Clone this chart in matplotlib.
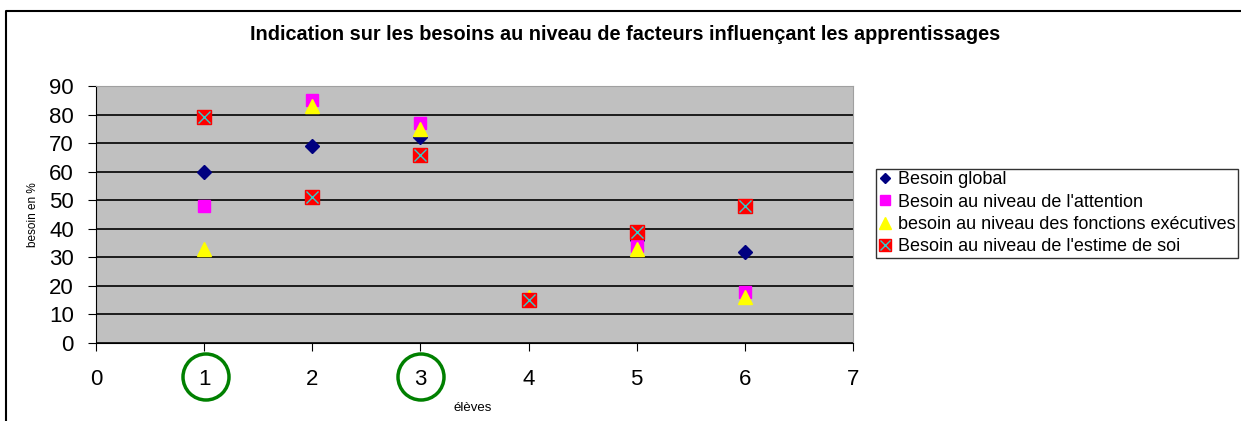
import matplotlib
matplotlib.use("Agg")
import matplotlib.pyplot as plt
from matplotlib.patches import Ellipse
from matplotlib.lines import Line2D
from matplotlib.legend_handler import HandlerTuple

eleves = [1, 2, 3, 4, 5, 6]
besoin_global = [60, 69, 72, 15, 36, 32]
besoin_attention = [48, 85, 77, 15, 34, 18]
besoin_executives = [33, 83, 75, 16, 33, 16]
besoin_estime = [79, 51, 66, 15, 39, 48]
labels = ["Besoin global", "Besoin au niveau de l'attention",
          "besoin au niveau des fonctions exécutives",
          "Besoin au niveau de l'estime de soi"]
title = "Indication sur les besoins au niveau de facteurs influençant les apprentissages"

W, H = 1241, 421
plt.rcParams['font.family'] = ['Liberation Sans', 'DejaVu Sans']
fig = plt.figure(figsize=(W / 100, H / 100), dpi=100)

def fx(px): return px / W
def fy(py): return 1 - py / H

ax = fig.add_axes([fx(96), fy(343), fx(853) - fx(96), fy(86) - fy(343)])
ax.set_facecolor('#C0C0C0')
ax.set_xlim(0, 7)
ax.set_ylim(0, 90)
ax.set_yticks(range(0, 91, 10))
ax.set_xticks(range(0, 8))
ax.yaxis.grid(True, color='black', linewidth=1.2)
ax.set_axisbelow(True)
for s in ['top', 'right']:
    ax.spines[s].set_color('#A0A0A0')
ax.spines['left'].set_color('black')
ax.spines['bottom'].set_color('black')
ax.tick_params(axis='both', labelsize=16, direction='out', length=6, color='black')
ax.tick_params(axis='y', pad=10)
ax.tick_params(axis='x', pad=13)

h1, = ax.plot(eleves, besoin_global, linestyle='none', marker='D', markersize=7,
              color='#000080', zorder=3)
h2, = ax.plot(eleves, besoin_attention, linestyle='none', marker='s', markersize=9,
              color='#FF00FF', zorder=3)
h3, = ax.plot(eleves, besoin_executives, linestyle='none', marker='^', markersize=10,
              color='#FFFF00', zorder=4)
h4a, = ax.plot(eleves, besoin_estime, linestyle='none', marker='s', markersize=10.5,
               color='#FF0000', zorder=5)
h4b, = ax.plot(eleves, besoin_estime, linestyle='none', marker='x', markersize=9,
               markeredgewidth=1, color='#33CCCC', zorder=6)

ax.set_ylabel("besoin en %", fontsize=8.5)
ax.yaxis.set_label_coords((39 - 96) / (853 - 96), 0.5)
ax.set_xlabel("élèves", fontsize=9.5)
ax.xaxis.set_label_coords((473 - 96) / (853 - 96), -(408 - 343) / (343 - 86))
ax.xaxis.label.set_va('center')

fig.text(fx(625), fy(35), title, ha='center', va='center', fontsize=14.3, fontweight='bold')

leg = fig.legend([h1, h2, h3, (h4a, h4b)], labels, loc='upper left',
                 bbox_to_anchor=(fx(876), fy(169)), fontsize=13, frameon=True,
                 fancybox=False, edgecolor='black', handlelength=0.8, handletextpad=0.3,
                 borderpad=0.12, labelspacing=0.3, borderaxespad=0, markerscale=0.8,
                 handler_map={tuple: HandlerTuple(ndivide=1, pad=0)})
leg.get_frame().set_linewidth(1)

for cx in [206, 421]:
    fig.patches.append(Ellipse((fx(cx), fy(377)), 46 / W, 46 / H, fill=False,
                               edgecolor='green', linewidth=2.5,
                               transform=fig.transFigure, figure=fig))

fig.lines.append(Line2D([fx(6), fx(6), 1.0], [0.0, fy(11), fy(11)], color='black',
                        linewidth=1.5, transform=fig.transFigure, figure=fig))

fig.savefig("out.png", dpi=100)
